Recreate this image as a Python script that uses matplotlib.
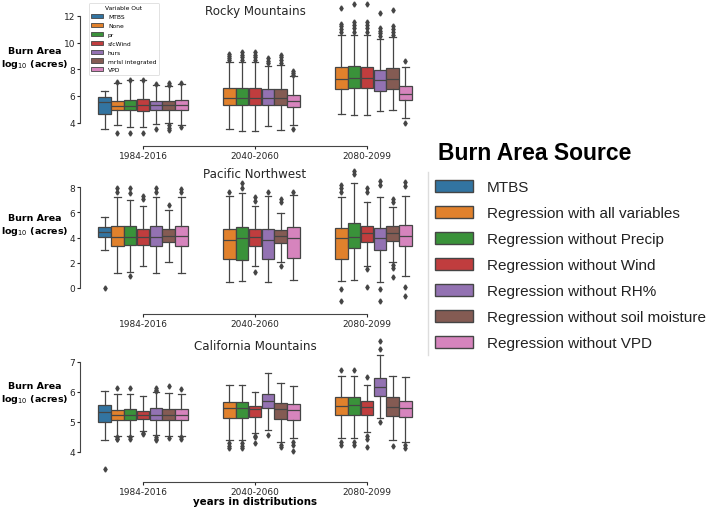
import numpy as np
import matplotlib.pyplot as plt
from matplotlib.patches import Patch
from matplotlib.lines import Line2D

periods = ["1984-2016", "2040-2060", "2080-2099"]
var_out = ["MTBS", "None", "pr", "sfcWind", "hurs", "mrlsl integrated", "VPD"]
source_labels = [
    "MTBS",
    "Regression with all variables",
    "Regression without Precip",
    "Regression without Wind",
    "Regression without RH%",
    "Regression without soil moisture",
    "Regression without VPD",
]
colors = ["#3274a1", "#e1812c", "#3a923a", "#c03d3e", "#9372b2", "#845b53", "#d684bd"]

# box statistics, one row per period, one column per source (None = no box)
rocky_lo = [[3.55, 3.80, 3.68, 3.68, 3.93, 4.00, 3.85],
            [None, 3.50, 3.38, 3.38, 3.75, 3.43, 3.80],
            [None, 4.67, 4.60, 4.55, 4.85, 4.92, 4.35]]
rocky_q1 = [[4.67, 4.92, 4.92, 4.87, 4.97, 4.92, 4.92],
            [None, 5.29, 5.29, 5.29, 5.34, 5.29, 5.17],
            [None, 6.49, 6.59, 6.59, 6.41, 6.54, 5.72]]
rocky_med = [[5.52, 5.25, 5.25, 5.30, 5.29, 5.29, 5.29],
             [None, 5.87, 5.87, 5.87, 5.84, 5.87, 5.62],
             [None, 7.28, 7.36, 7.33, 7.16, 7.28, 6.16]]
rocky_q3 = [[5.92, 5.62, 5.72, 5.79, 5.59, 5.62, 5.72],
            [None, 6.59, 6.59, 6.59, 6.54, 6.54, 6.09],
            [None, 8.16, 8.28, 8.20, 7.98, 8.08, 6.74]]
rocky_hi = [[6.41, 6.99, 7.16, 7.16, 6.84, 6.74, 6.91],
            [None, 8.53, 8.58, 8.58, 8.28, 8.33, 7.46],
            [None, 10.57, 10.57, 10.57, 10.27, 10.39, 8.20]]
rocky_fliers = [
    [[], [7.05, 3.25], [7.2, 3.2], [7.2, 3.2], [6.9, 3.55], [6.85, 7.0, 3.8, 3.6, 3.43], [6.95, 3.7]],
    [[], [8.7, 8.85, 9.0, 9.15], [8.7, 8.9, 9.1, 9.3], [8.7, 8.9, 9.1, 9.3], [8.45, 8.65, 8.85],
     [8.5, 8.7, 8.9, 9.1], [7.6, 7.75, 7.9, 3.5]],
    [[], [10.8, 11.0, 11.2, 11.4, 12.6], [10.8, 11.1, 11.3, 11.5, 12.9], [10.8, 11.1, 11.3, 11.5, 12.9],
     [10.5, 10.7, 10.9, 11.1, 12.2], [10.6, 10.8, 11.0, 11.2, 12.4], [8.65, 4.0]],
]

pnw_lo = [[3.04, 1.19, 1.30, 1.72, 1.19, 2.09, 1.19],
          [None, 0.50, 0.56, 1.72, 0.50, 2.04, 0.66],
          [None, 0.53, 0.66, 1.72, 0.50, 2.10, 0.93]]
pnw_q1 = [[4.07, 3.31, 3.41, 3.44, 3.31, 3.62, 3.31],
          [None, 2.30, 2.22, 3.36, 2.30, 3.54, 2.35],
          [None, 2.30, 3.17, 3.62, 3.04, 3.76, 3.31]]
pnw_med = [[4.42, 4.02, 4.02, 4.02, 4.02, 4.10, 4.10],
           [None, 3.83, 3.97, 4.02, 3.83, 4.10, 3.97],
           [None, 3.94, 4.07, 4.34, 3.97, 4.34, 4.10]]
pnw_q3 = [[4.87, 4.90, 4.90, 4.68, 4.95, 4.68, 4.95],
          [None, 4.68, 4.81, 4.68, 4.68, 4.60, 4.81],
          [None, 4.76, 5.16, 4.90, 4.73, 4.95, 5.00]]
pnw_hi = [[5.66, 7.25, 7.01, 6.53, 7.25, 6.19, 7.18],
          [None, 7.33, 7.54, 6.48, 7.33, 5.95, 7.38],
          [None, 7.25, 8.31, 6.80, 7.25, 6.40, 7.27]]
pnw_fliers = [
    [[0.0], [7.6, 7.95], [7.55, 7.9, 0.93], [7.05, 7.3], [7.6, 7.95], [6.6], [7.6, 7.85]],
    [[], [7.6], [7.9, 8.3], [6.9, 7.2, 1.25], [7.6], [6.8, 7.1, 1.75], [7.65]],
    [[], [7.65, 7.9, 8.2, -0.1, -1.0], [9.05, 9.3], [7.65, 7.9, 1.5, 0.05], [8.2, 8.5, -0.1, -1.05],
     [6.8, 7.05, 1.85, 1.6, 0.9], [8.1, 8.4, 0.1, -0.6]],
]

cal_lo = [[4.41, 4.54, 4.54, 4.69, 4.57, 4.54, 4.54],
          [None, 4.40, 4.40, 4.62, 4.74, 4.34, 4.46],
          [None, 4.46, 4.46, 4.68, 5.13, 4.41, 4.32]]
cal_q1 = [[4.99, 5.07, 5.07, 5.10, 5.07, 5.07, 5.07],
          [None, 5.12, 5.12, 5.16, 5.46, 5.10, 5.08],
          [None, 5.23, 5.23, 5.23, 5.86, 5.21, 5.16]]
cal_med = [[5.32, 5.23, 5.23, 5.23, 5.23, 5.23, 5.23],
           [None, 5.46, 5.46, 5.43, 5.71, 5.43, 5.41],
           [None, 5.54, 5.56, 5.49, 6.16, 5.49, 5.46]]
cal_q3 = [[5.57, 5.41, 5.43, 5.36, 5.46, 5.43, 5.43],
          [None, 5.68, 5.68, 5.54, 5.93, 5.62, 5.60],
          [None, 5.82, 5.82, 5.71, 6.46, 5.82, 5.71]]
cal_hi = [[6.04, 5.93, 5.93, 5.86, 6.01, 5.97, 5.93],
          [None, 6.23, 6.23, 6.01, 6.63, 6.29, 6.19],
          [None, 6.54, 6.54, 6.23, 7.23, 6.54, 6.49]]
cal_fliers = [
    [[3.45], [6.13, 4.5, 4.45, 4.42], [6.13, 4.5, 4.45], [4.62, 4.6], [6.02, 6.08, 6.12, 4.5, 4.45, 4.4],
     [6.2, 4.48], [6.1, 4.5, 4.45]],
    [[], [4.3, 4.2, 4.12], [4.3, 4.2, 4.12], [4.55, 4.5, 4.3], [4.57], [4.25, 4.18], [4.35, 4.25, 4.05]],
    [[], [6.74, 4.35, 4.22], [6.74, 4.35, 4.22], [6.49, 4.54, 4.45, 4.16], [7.42, 7.71, 5.0], [4.2],
     [4.25, 4.12]],
]

gray = "#454545"
W, H = 709, 510

fig = plt.figure(figsize=(7.09, 5.10), dpi=100)


def draw_region(rect, lo, q1, med, q3, hi, fliers, ylim, yticks):
    ax = fig.add_axes(rect)
    n = len(var_out)
    step = 0.8 / n
    stats, pos, cols = [], [], []
    for p in range(len(periods)):
        for i in range(n):
            if med[p][i] is None:
                continue
            stats.append(dict(med=med[p][i], q1=q1[p][i], q3=q3[p][i],
                              whislo=lo[p][i], whishi=hi[p][i], fliers=fliers[p][i]))
            pos.append(p + (i - (n - 1) / 2) * step)
            cols.append(colors[i])
    art = ax.bxp(stats, positions=pos, widths=step * 0.98, patch_artist=True,
                 manage_ticks=False,
                 boxprops=dict(edgecolor=gray, linewidth=0.9),
                 whiskerprops=dict(color=gray, linewidth=0.9),
                 capprops=dict(color=gray, linewidth=0.9),
                 medianprops=dict(color=gray, linewidth=0.9),
                 flierprops=dict(marker="d", markerfacecolor=gray, markeredgecolor=gray,
                                 markersize=2.6, linestyle="none"))
    for box, c in zip(art["boxes"], cols):
        box.set_facecolor(c)

    ax.set_xlim(-0.5, 2.5)
    ax.set_ylim(*ylim)
    ax.set_xticks(range(len(periods)))
    ax.set_xticklabels(periods)
    ax.set_yticks(yticks)
    ax.tick_params(labelsize=6.5, colors="#262626", length=2.5, width=0.8, pad=1)
    for s in ["top", "right"]:
        ax.spines[s].set_visible(False)
    ax.spines["left"].set_position(("outward", 5))
    ax.spines["bottom"].set_position(("outward", 5.8))
    ax.spines["left"].set_bounds(yticks[0], yticks[-1])
    ax.spines["bottom"].set_bounds(0, 2)
    for s in ["left", "bottom"]:
        ax.spines[s].set_color(gray)
        ax.spines[s].set_linewidth(0.8)
    ax.set_facecolor("none")
    return ax


# axes rectangles worked out from pixel positions in the reference
ax1 = draw_region([87 / W, 1 - 138.7 / H, 336 / W, 136.6 / H],
                  rocky_lo, rocky_q1, rocky_med, rocky_q3, rocky_hi, rocky_fliers,
                  (2.88, 13.1), [4, 6, 8, 10, 12])
ax2 = draw_region([87 / W, 1 - 307 / H, 336 / W, 139 / H],
                  pnw_lo, pnw_q1, pnw_med, pnw_q3, pnw_hi, pnw_fliers,
                  (-1.43, 9.6), [0, 2, 4, 6, 8])
ax3 = draw_region([87 / W, 1 - 474.9 / H, 336 / W, 135.9 / H],
                  cal_lo, cal_q1, cal_med, cal_q3, cal_hi, cal_fliers,
                  (3.27, 7.8), [4, 5, 6, 7])

# panel titles and y labels
for name, ty, ly in [("Rocky Mountains", 11, 59), ("Pacific Northwest", 175, 226),
                     ("California Mountains", 347, 394)]:
    fig.text(255 / W, 1 - ty / H, name, ha="center", va="center", fontsize=8.6, color="#262626")
    fig.text(35 / W, 1 - ly / H, "Burn Area\nlog$_{10}$ (acres)", ha="center", va="center",
             fontsize=6.8, fontweight="bold", linespacing=1.2, multialignment="center")

fig.text(255 / W, 1 - 502 / H, "years in distributions", ha="center", va="center",
         fontsize=7.4, fontweight="bold")

# small legend inside the first panel
small_handles = [Patch(facecolor=c, edgecolor=gray, linewidth=0.6) for c in colors]
leg = ax1.legend(small_handles, var_out, title="Variable Out", loc="upper left",
                 fontsize=4.3, title_fontsize=4.3, borderaxespad=0.3, fancybox=True,
                 framealpha=1, edgecolor="#dddddd", labelspacing=0.62)
leg.get_frame().set_linewidth(0.6)

# big legend on the right
big_handles = [Patch(facecolor=c, edgecolor=gray, linewidth=1) for c in colors]
fig.legend(big_handles, source_labels, loc="upper left", bbox_to_anchor=(435 / W, 1 - 181 / H),
           frameon=False, borderaxespad=0, borderpad=0, handlelength=2.5, handleheight=0.85,
           handletextpad=0.9, labelspacing=0.76,
           prop=dict(family="Liberation Sans", size=11), labelcolor="#222222")
fig.text(438 / W, 1 - 153 / H, "Burn Area Source", ha="left", va="center",
         fontsize=16.5, fontweight="bold", family="Liberation Sans")
fig.add_artist(Line2D([428 / W, 428 / W], [1 - 173 / H, 1 - 356 / H], color="#dddddd", lw=1))

fig.savefig("out.png", dpi=100)
